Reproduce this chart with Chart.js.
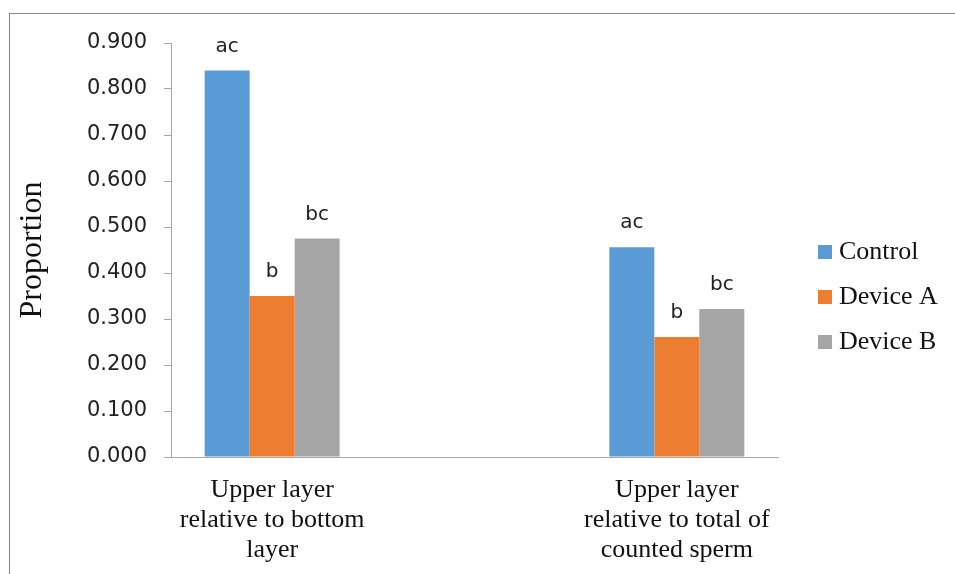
<!DOCTYPE html>
<html>
<head>
<meta charset="utf-8">
<script src="https://cdn.jsdelivr.net/npm/chart.js@4"></script>
<style>
  html, body { margin: 0; padding: 0; background: #fff; overflow: hidden; }
  #frame { position: absolute; left: 9px; top: 13px; width: 1000px; height: 700px; border: 1px solid #888; box-sizing: border-box; }
  #wrap { position: absolute; left: 0; top: 0; width: 955px; height: 574px; }
</style>
</head>
<body>
<div id="frame"></div>
<div id="wrap"><canvas id="myChart"></canvas></div>
<script>
// categories (the original sheet has a blank middle category between the two groups)
const categories = [
  ["Upper layer", "relative to bottom", "layer"],
  "",
  ["Upper layer", "relative to total of", "counted sperm"]
];
const seriesNames = ["Control", "Device A", "Device B"];
const control = [0.840, null, 0.456];
const deviceA = [0.350, null, 0.261];
const deviceB = [0.475, null, 0.322];
// significance letters above each bar
const controlLetters = ["ac", "", "ac"];
const deviceALetters = ["b", "", "b"];
const deviceBLetters = ["bc", "", "bc"];

const colors = ["#5b9bd5", "#ed7d31", "#a5a5a5"];
const tickFont = { family: "DejaVu Sans", size: 21 };
const serif = "Liberation Serif";

// draws the letters above the bars
const letterPlugin = {
  id: "letters",
  afterDatasetsDraw(chart) {
    const ctx = chart.ctx;
    ctx.save();
    ctx.font = "20px 'DejaVu Sans'";
    ctx.fillStyle = "#222";
    ctx.textAlign = "center";
    ctx.textBaseline = "alphabetic";
    chart.data.datasets.forEach((ds, i) => {
      const meta = chart.getDatasetMeta(i);
      meta.data.forEach((bar, j) => {
        if (ds.data[j] == null) return;
        ctx.fillText(ds.letters[j], bar.x, bar.y - 19);
      });
    });
    ctx.restore();
  }
};

// legend on the right, drawn by hand so it can sit away from the plot
const sideLegend = {
  id: "sideLegend",
  afterDraw(chart) {
    const ctx = chart.ctx;
    const area = chart.chartArea;
    const top = (area.top + area.bottom) / 2 + 2;
    const x = area.right + 40;
    ctx.save();
    ctx.font = "26px '" + serif + "'";
    ctx.textBaseline = "middle";
    ctx.textAlign = "left";
    chart.data.datasets.forEach((ds, i) => {
      const y = top + i * 45;
      ctx.fillStyle = ds.backgroundColor;
      ctx.fillRect(x, y - 7, 14, 14);
      ctx.fillStyle = "#111";
      ctx.fillText(ds.label, x + 21, y);
    });
    ctx.restore();
  }
};

const ctx = document.getElementById("myChart");
let myChart = new Chart(ctx, {
  type: "bar",
  data: {
    labels: categories,
    datasets: [
      { label: seriesNames[0], data: control, letters: controlLetters, backgroundColor: colors[0] },
      { label: seriesNames[1], data: deviceA, letters: deviceALetters, backgroundColor: colors[1] },
      { label: seriesNames[2], data: deviceB, letters: deviceBLetters, backgroundColor: colors[2] }
    ]
  },
  options: {
    responsive: true,
    maintainAspectRatio: false,
    animation: false,
    layout: { padding: { top: 43, right: 177, bottom: 0, left: 0 } },
    datasets: { bar: { barPercentage: 1, categoryPercentage: 0.667 } },
    plugins: {
      legend: { display: false },
      tooltip: { enabled: false }
    },
    scales: {
      x: {
        grid: { display: false, drawTicks: false },
        border: { display: true, color: "#a6a6a6", width: 1 },
        ticks: {
          color: "#111",
          font: { family: serif, size: 26, lineHeight: "30px" },
          maxRotation: 0,
          autoSkip: false,
          padding: 18
        },
        afterFit(scale) { scale.height = 117; }
      },
      y: {
        min: 0,
        max: 0.9,
        grid: { drawOnChartArea: false, drawTicks: true, tickLength: 7, color: "#a6a6a6" },
        border: { display: true, color: "#a6a6a6", width: 1 },
        ticks: {
          stepSize: 0.1,
          color: "#222",
          font: tickFont,
          padding: 17,
          callback: (v) => v.toFixed(3)
        },
        title: {
          display: true,
          text: "Proportion",
          color: "#111",
          font: { family: serif, size: 32 },
          padding: { top: 13, bottom: 0 }
        },
        afterFit(scale) { scale.width = 171; }
      }
    }
  },
  plugins: [letterPlugin, sideLegend]
});
</script>
</body>
</html>
